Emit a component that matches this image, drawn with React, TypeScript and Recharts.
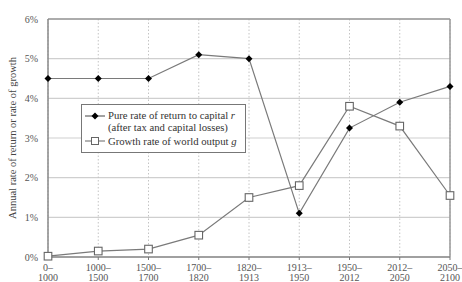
import React from "react";
import { LineChart, Line, XAxis, YAxis, CartesianGrid, ReferenceLine } from "recharts";

const periods = ["0–1000", "1000–1500", "1500–1700", "1700–1820", "1820–1913", "1913–1950", "1950–2012", "2012–2050", "2050–2100"];
const returnRate = [4.5, 4.5, 4.5, 5.1, 5.0, 1.1, 3.25, 3.9, 4.3];
const growthRate = [0.02, 0.15, 0.2, 0.55, 1.5, 1.8, 3.8, 3.3, 1.55];
const yTicks = [0, 1, 2, 3, 4, 5, 6];

const data = periods.map((p, i) => ({ period: p, r: returnRate[i], g: growthRate[i] }));

const FONT = "'Liberation Serif', 'DejaVu Serif', serif";
const LINE = "#7a7a7a";

const Diamond = (props: any) => {
  const { cx, cy } = props;
  if (cx == null || cy == null) return null;
  const s = 3.5;
  return <polygon points={`${cx},${cy - s} ${cx + s},${cy} ${cx},${cy + s} ${cx - s},${cy}`} fill="#000" />;
};

const Square = (props: any) => {
  const { cx, cy } = props;
  if (cx == null || cy == null) return null;
  const s = 3.8;
  return <rect x={cx - s} y={cy - s} width={2 * s} height={2 * s} fill="#fff" stroke="#666" strokeWidth={1.1} />;
};

const XTick = (props: any) => {
  const { x, y, payload } = props;
  const [a, b] = String(payload.value).split("–");
  return (
    <g transform={`translate(${x},${y})`}>
      <text x={0} y={9} textAnchor="middle" fontFamily={FONT} fontSize={10} fill="#555">{a + "–"}</text>
      <text x={0} y={18.5} textAnchor="middle" fontFamily={FONT} fontSize={10} fill="#555">{b}</text>
    </g>
  );
};

const LegendBox = () => (
  <div
    style={{
      position: "absolute",
      left: 81,
      top: 104,
      border: "1px solid #777",
      background: "#fff",
      width: 165,
      height: 49,
      boxSizing: "border-box",
      fontFamily: FONT,
      fontSize: 10.7,
      color: "#333",
      lineHeight: "12px",
    }}
  >
    <svg width={24} height={49} style={{ position: "absolute", left: 2, top: 0 }}>
      <line x1={1} y1={11} x2={21} y2={11} stroke="#444" strokeWidth={1} />
      <polygon points="11,7.5 14.5,11 11,14.5 7.5,11" fill="#000" />
      <line x1={1} y1={36} x2={21} y2={36} stroke="#666" strokeWidth={1} />
      <rect x={7.5} y={32.5} width={7} height={7} fill="#fff" stroke="#666" />
    </svg>
    <div style={{ position: "absolute", left: 26, top: 4, whiteSpace: "nowrap" }}>
      Pure rate of return to capital <i>r</i>
      <br />
      (after tax and capital losses)
    </div>
    <div style={{ position: "absolute", left: 26, top: 30, whiteSpace: "nowrap" }}>
      Growth rate of world output <i>g</i>
    </div>
  </div>
);

export default function App() {
  return (
    <div style={{ position: "absolute", left: 0, top: 0, width: 462, height: 282, background: "#fff" }}>
      <LineChart width={462} height={282} data={data} margin={{ top: 19, right: 12, left: 0, bottom: 0 }}>
        <CartesianGrid vertical={false} stroke="#cfcfcf" strokeWidth={1.2} />
        <CartesianGrid horizontal={false} stroke="#c4c4c4" strokeDasharray="1.5 2" />
        <XAxis
          dataKey="period"
          interval={0}
          height={25}
          tick={<XTick />}
          tickLine={{ stroke: "#777" }}
          tickSize={3}
          axisLine={{ stroke: "#888", strokeWidth: 1.5 }}
          padding={{ left: 0, right: 0 }}
        />
        <YAxis
          domain={[0, 6]}
          ticks={yTicks}
          width={48}
          tickFormatter={(v: number) => `${v}%`}
          tick={{ fontFamily: FONT, fontSize: 10, fill: "#555" }}
          tickLine={false}
          tickSize={4}
          tickMargin={6}
          axisLine={{ stroke: "#888", strokeWidth: 1.5 }}
          label={{
            value: "Annual rate of return or rate of growth",
            angle: -90,
            position: "insideLeft",
            offset: 12,
            style: { fontFamily: FONT, fontSize: 10.5, fill: "#444", textAnchor: "middle" },
          }}
        />
        <ReferenceLine y={6} stroke="#999" strokeWidth={1.5} />
        <ReferenceLine x={periods[periods.length - 1]} stroke="#999" strokeWidth={1.5} />
        <Line dataKey="r" stroke={LINE} strokeWidth={1.2} dot={<Diamond />} isAnimationActive={false} />
        <Line dataKey="g" stroke={LINE} strokeWidth={1.2} dot={<Square />} isAnimationActive={false} />
      </LineChart>
      <LegendBox />
    </div>
  );
}
